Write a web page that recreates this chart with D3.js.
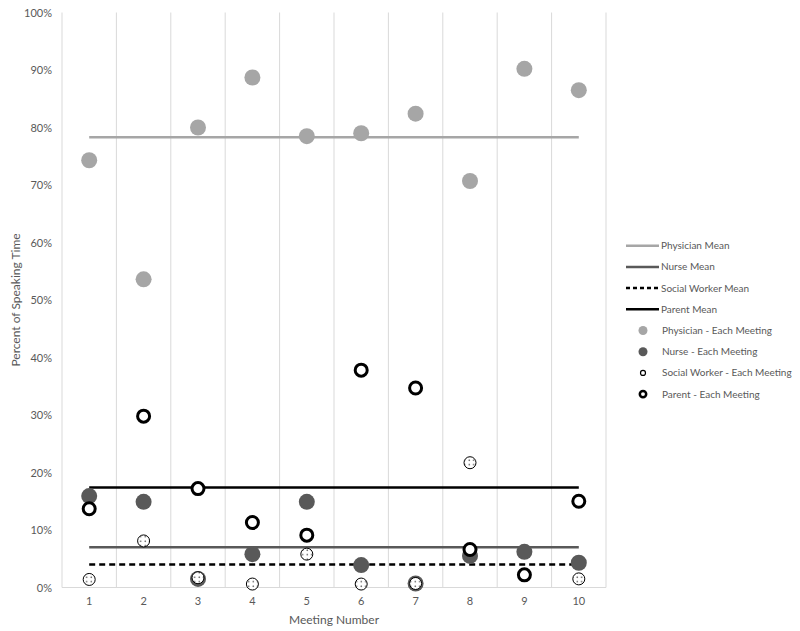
<!DOCTYPE html>
<html><head><meta charset="utf-8">
<script src="https://cdn.jsdelivr.net/npm/d3@7/dist/d3.min.js"></script>
<style>body{margin:0;background:#fff}svg{display:block}text{font-family:Lato,"Open Sans",sans-serif;fill:#595959}</style>
</head><body><svg id="c" width="800" height="631"></svg>
<script>
const meetings = [1,2,3,4,5,6,7,8,9,10];
const physician = [74.3,53.6,80.0,88.7,78.5,79.0,82.4,70.7,90.2,86.5];
const nurse = [15.9,14.9,1.5,5.8,14.9,3.9,0.7,5.5,6.2,4.3];
const socialWorker = [1.4,8.1,1.7,0.6,5.8,0.6,0.7,21.7,null,1.5];
const parent = [13.7,29.8,17.2,11.3,9.1,37.8,34.7,6.6,2.2,15.0];
const means = {physician:78.3, nurse:7.0, socialWorker:4.0, parent:17.4};
const yTicks = [0,10,20,30,40,50,60,70,80,90,100];

const svg = d3.select("#c");
const x = d3.scaleBand().domain(meetings).range([62,606]);
const y = d3.scaleLinear().domain([0,100]).range([587.5,12.5]);
const cx = d => x(d)+x.bandwidth()/2;

const defs = svg.append("defs");
const pat = defs.append("pattern").attr("id","dots").attr("patternUnits","userSpaceOnUse").attr("width",4.5).attr("height",4.5);
pat.append("rect").attr("width",4.5).attr("height",4.5).attr("fill","#fff");
pat.append("circle").attr("cx",1.2).attr("cy",1.2).attr("r",0.75).attr("fill","#333");

// vertical gridlines at band boundaries
const bounds = meetings.map(m=>x(m)).concat([x(10)+x.bandwidth()]);
svg.append("g").selectAll("line").data(bounds).join("line")
 .attr("x1",d=>d).attr("x2",d=>d).attr("y1",y(100)).attr("y2",y(0))
 .attr("stroke","#d9d9d9").attr("stroke-width",1);
svg.append("line").attr("x1",62).attr("x2",606).attr("y1",y(0)).attr("y2",y(0)).attr("stroke","#d9d9d9");

const yAxis = d3.axisLeft(y).tickValues(yTicks).tickFormat(d=>d+"%").tickSize(0).tickPadding(10);
const ga = svg.append("g").attr("transform","translate(62,0)").call(yAxis);
ga.select(".domain").remove();
ga.selectAll("text").attr("font-size","11px").attr("fill","#595959").style("font-family","Lato,'Open Sans',sans-serif");
const xAxis = d3.axisBottom(x).tickSize(0).tickPadding(10);
const gx = svg.append("g").attr("transform",`translate(0,${y(0)})`).call(xAxis);
gx.select(".domain").remove();
gx.selectAll("text").attr("font-size","11px").attr("fill","#595959").style("font-family","Lato,'Open Sans',sans-serif");

svg.append("text").attr("x",334).attr("y",624).attr("text-anchor","middle").attr("font-size","12px").text("Meeting Number");
svg.append("text").attr("transform","translate(20,300) rotate(-90)").attr("text-anchor","middle").attr("font-size","12px").text("Percent of Speaking Time");

const lineStyles = [
 {k:"physician", stroke:"#a6a6a6", dash:null, label:"Physician Mean"},
 {k:"nurse", stroke:"#595959", dash:null, label:"Nurse Mean"},
 {k:"socialWorker", stroke:"#000", dash:"6,4", label:"Social Worker Mean"},
 {k:"parent", stroke:"#000", dash:null, label:"Parent Mean"}
];
lineStyles.forEach(s=>{
  svg.append("line").attr("x1",cx(1)).attr("x2",cx(10)).attr("y1",y(means[s.k])).attr("y2",y(means[s.k]))
   .attr("stroke",s.stroke).attr("stroke-width",2.5).attr("stroke-dasharray",s.dash);
});

const series = [
 {vals:physician, r:8, fill:"#a6a6a6", stroke:"none", sw:0, label:"Physician - Each Meeting", lr:4.5},
 {vals:nurse, r:8, fill:"#595959", stroke:"none", sw:0, label:"Nurse - Each Meeting", lr:4.5},
 {vals:socialWorker, r:6, fill:"url(#dots)", stroke:"#000", sw:1, label:"Social Worker - Each Meeting", lr:2.5, lsw:1.2, lfill:"#fff"},
 {vals:parent, r:6, fill:"#fff", stroke:"#000", sw:3, label:"Parent - Each Meeting", lr:3.2, lsw:2.5, lfill:"#fff"}
];
series.forEach(s=>{
  svg.append("g").selectAll("circle").data(meetings.map((m,i)=>({m,v:s.vals[i]})).filter(d=>d.v!=null)).join("circle")
   .attr("cx",d=>cx(d.m)).attr("cy",d=>y(d.v)).attr("r",s.r)
   .attr("fill",s.fill).attr("stroke",s.stroke).attr("stroke-width",s.sw);
});

const lg = svg.append("g");
const rowY = i => 245.7 + i*21.2;
lineStyles.forEach((s,i)=>{
  lg.append("line").attr("x1",626).attr("x2",659).attr("y1",rowY(i)).attr("y2",rowY(i))
   .attr("stroke",s.stroke).attr("stroke-width",2.5).attr("stroke-dasharray",s.dash?"4,3":null);
  lg.append("text").attr("x",661).attr("y",rowY(i)).attr("dy","0.35em").attr("font-size","10px").text(s.label);
});
series.forEach((s,j)=>{
  const i=j+4;
  lg.append("circle").attr("cx",643).attr("cy",rowY(i)).attr("r",s.lr)
   .attr("fill",s.lfill||s.fill).attr("stroke",s.stroke).attr("stroke-width",s.lsw||0);
  lg.append("text").attr("x",662).attr("y",rowY(i)).attr("dy","0.35em").attr("font-size","10px").text(s.label);
});
</script></body></html>
